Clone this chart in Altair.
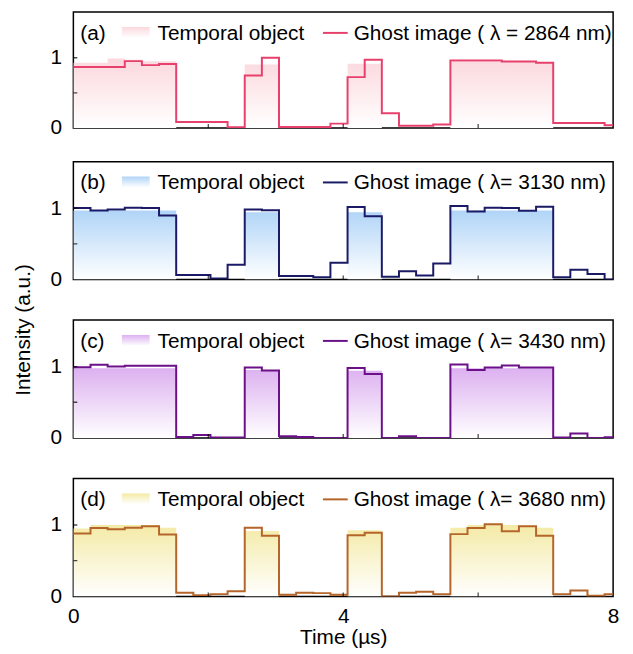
import altair as alt
import pandas as pd

FONT = "Liberation Sans"

# bin edges (µs)
times = [0.0, 0.254, 0.508, 0.762, 1.016, 1.27, 1.524, 1.778, 2.032, 2.286, 2.54,
         2.794, 3.048, 3.302, 3.556, 3.81, 4.064, 4.318, 4.572, 4.826, 5.08, 5.334,
         5.588, 5.842, 6.096, 6.35, 6.604, 6.858, 7.112, 7.366, 7.62, 7.874, 8.128]

labels = ["(a)", "(b)", "(c)", "(d)"]
ghost_labels = ["Ghost image ( λ = 2864 nm)", "Ghost image ( λ= 3130 nm)",
                "Ghost image ( λ= 3430 nm)", "Ghost image ( λ= 3680 nm)"]
line_colors = ["#E8406C", "#1A1A66", "#6B1088", "#B5652A"]
fill_colors = ["#FBD8DD", "#B0D4F7", "#DCB0F0", "#F4EAA6"]

obj_a = [0.93, 0.93, 0.99, 0.97, 0.95, 0.95, 0, 0, 0, 0, 0.905, 0.905, 0, 0, 0, 0,
         0.914, 0.914, 0, 0, 0, 0, 0.94, 0.94, 0.94, 0.94, 0.94, 0.94, 0, 0, 0, 0]
ghost_a = [0.867, 0.867, 0.867, 0.952, 0.895, 0.91, 0.086, 0.086, 0.086, 0.01, 0.748, 1.0,
           0.014, 0.014, 0.014, 0.062, 0.724, 0.971, 0.21, 0.033, 0.033, 0.048, 0.962, 0.962,
           0.962, 0.948, 0.948, 0.93, 0.071, 0.071, 0.071, 0.038]

obj_b = [0.967, 0.967, 0.967, 0.967, 0.967, 0.967, 0, 0, 0, 0, 0.943, 0.943, 0, 0, 0, 0,
         0.943, 0.943, 0, 0, 0, 0, 0.967, 0.967, 0.967, 0.967, 0.967, 0.967, 0, 0, 0, 0]
ghost_b = [1.0, 0.967, 0.981, 1.005, 1.0, 0.895, 0.062, 0.062, 0.014, 0.205, 0.981, 0.971,
           0.048, 0.048, 0.033, 0.233, 1.014, 0.886, 0.038, 0.114, 0.057, 0.224, 1.03, 0.952,
           1.005, 1.0, 0.962, 1.02, 0.033, 0.138, 0.076, 0.0]

obj_c = [0.976, 0.976, 0.976, 0.976, 0.976, 0.976, 0, 0, 0, 0, 0.95, 0.95, 0, 0, 0, 0,
         0.94, 0.94, 0, 0, 0, 0, 0.976, 0.976, 0.976, 0.976, 0.976, 0.976, 0, 0, 0, 0]
ghost_c = [0.99, 1.024, 1.0, 1.01, 1.01, 1.01, 0.014, 0.043, 0.005, 0.005, 0.986, 0.943,
           0.024, 0.014, 0.0, 0.0, 0.98, 0.895, 0.0, 0.024, 0.0, 0.0, 1.03, 0.952,
           0.986, 1.014, 0.986, 0.986, 0.005, 0.062, 0.0, 0.01]

obj_d = [0.95, 1.0, 1.0, 1.0, 1.0, 0.963, 0, 0, 0, 0, 0.917, 0.917, 0, 0, 0, 0,
         0.927, 0.927, 0, 0, 0, 0, 0.96, 1.0, 1.0, 1.0, 0.99, 0.96, 0, 0, 0, 0]
ghost_d = [0.88, 0.959, 0.94, 0.963, 0.982, 0.867, 0.05, 0.018, 0.032, 0.073, 0.963, 0.849,
           0.023, 0.05, 0.046, 0.023, 0.858, 0.89, 0.0, 0.05, 0.064, 0.032, 0.872, 0.959,
           1.01, 0.913, 0.982, 0.849, 0.032, 0.083, 0.01, 0.032]

objs = [obj_a, obj_b, obj_c, obj_d]
ghosts = [ghost_a, ghost_b, ghost_c, ghost_d]

x_ticks = [2, 4, 6]
y_ticks = [0.5, 1]
Y_DOMAIN = [0, 1.65]
W = 545
HEIGHTS = [117, 119, 119, 119]
FS = 21


def grad(c):
    return alt.Gradient(gradient="linear",
                        stops=[alt.GradientStop(color=c, offset=0),
                               alt.GradientStop(color="#FFFFFF", offset=1)],
                        x1=0, x2=0, y1=0, y2=1)


def panel(i):
    df = pd.DataFrame({"t": times,
                       "obj": objs[i] + [objs[i][-1]],
                       "ghost": ghosts[i] + [ghosts[i][-1]]})
    bottom = i == 3
    if bottom:
        xaxis = alt.Axis(values=[0, 4, 8], format="d", ticks=False, domain=False,
                         labelFontSize=FS, labelFont=FONT, labelColor="black",
                         labelPadding=9, labelFlush=False, grid=False,
                         title="Time (µs)", titleFontSize=FS, titleFont=FONT,
                         titleFontWeight="normal", titleColor="black", titlePadding=1)
    else:
        xaxis = None
    x = alt.X("t:Q", scale=alt.Scale(domain=[0, 8], nice=False, zero=False), axis=xaxis)
    yscale = alt.Scale(domain=Y_DOMAIN, nice=False)
    yaxis = alt.Axis(values=[0, 1], format="d", ticks=False, domain=False, grid=False,
                     labelFontSize=FS, labelFont=FONT, labelColor="black", labelPadding=12,
                     labelFlush=False, title=None)
    area = alt.Chart(df).mark_area(interpolate="step-after", clip=True,
                                   color=grad(fill_colors[i])).encode(
        x=x, y=alt.Y("obj:Q", scale=yscale, axis=yaxis))
    line = alt.Chart(df).mark_line(interpolate="step-after", clip=True,
                                   color=line_colors[i], strokeWidth=2).encode(
        x="t:Q", y="ghost:Q")
    xt = alt.Chart(pd.DataFrame({"v": x_ticks})).mark_tick(
        orient="vertical", size=8, thickness=1.3, color="black", clip=True).encode(
        x="v:Q", y=alt.value(HEIGHTS[i]))
    yt = alt.Chart(pd.DataFrame({"v": y_ticks})).mark_tick(
        orient="horizontal", size=8, thickness=1.3, color="black", clip=True).encode(
        y="v:Q", x=alt.value(0))
    one = pd.DataFrame({"a": [0]})
    tstyle = dict(align="left", baseline="alphabetic", fontSize=FS, font=FONT, color="black")
    lab = alt.Chart(one).mark_text(text=labels[i], **tstyle).encode(
        x=alt.value(7), y=alt.value(28))
    sw = alt.Chart(one).mark_rect(color=grad(fill_colors[i])).encode(
        x=alt.value(49), x2=alt.value(77), y=alt.value(15), y2=alt.value(26))
    t1 = alt.Chart(one).mark_text(text="Temporal object", **tstyle).encode(
        x=alt.value(85), y=alt.value(28))
    ls = alt.Chart(one).mark_rule(color=line_colors[i], strokeWidth=2).encode(
        x=alt.value(252), x2=alt.value(277), y=alt.value(21))
    t2 = alt.Chart(one).mark_text(text=ghost_labels[i], **tstyle).encode(
        x=alt.value(283), y=alt.value(28))
    return alt.layer(area, line, xt, yt, sw, lab, t1, ls, t2).properties(
        width=W, height=HEIGHTS[i])


lower = alt.vconcat(panel(1), panel(2), panel(3), spacing=29)
chart = alt.vconcat(panel(0), lower, spacing=22).properties(
    title=alt.TitleParams("Intensity (a.u.)", orient="left", anchor="middle",
                          fontSize=FS, font=FONT, fontWeight="normal", color="black",
                          offset=15),
    padding={"left": 5, "top": 0, "right": 5, "bottom": 2},
).configure_view(stroke="black", strokeWidth=1.5)

chart.save("out.html", embed_options={"renderer": "svg", "actions": False})
